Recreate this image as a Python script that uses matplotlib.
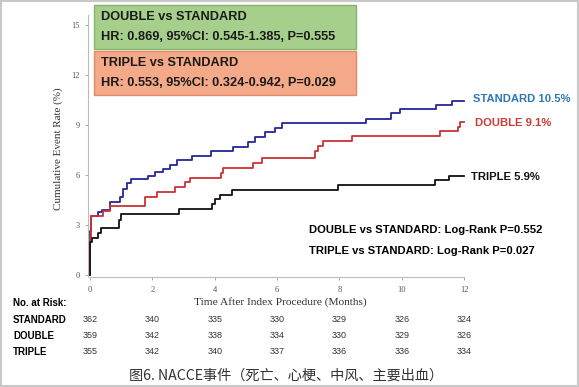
# NACCE cumulative event curves with number-at-risk table

import matplotlib.pyplot as plt
from matplotlib.patches import Rectangle
from matplotlib.transforms import blended_transform_factory

plt.rcParams['font.family'] = ['Liberation Sans', 'Noto Sans CJK SC', 'DejaVu Sans']

# curves (months, cumulative %)
std_t = [0, 0, 0.02, 0.25, 0.4, 0.64, 0.96, 1.07, 1.2, 1.33, 1.87, 2.1, 2.35, 2.56, 2.78,
         3.26, 3.87, 4.59, 5.07, 5.29, 5.61, 5.93, 6.17, 8.85, 9.65, 9.94, 11.11, 11.62, 12.0]
std_v = [0, 2.6, 3.55, 3.75, 3.9, 4.35, 4.65, 5.15, 5.5, 5.75, 5.95, 6.15, 6.35, 6.6, 6.9,
         7.15, 7.42, 7.68, 7.98, 8.28, 8.54, 8.82, 9.08, 9.34, 9.68, 9.92, 10.18, 10.44, 10.44]

dbl_t = [0, 0, 0.02, 0.43, 0.64, 1.78, 2.14, 2.72, 3.04, 3.2, 4.19, 4.27, 5.23, 5.53,
         7.21, 7.32, 7.48, 8.39, 11.22, 11.8, 11.88, 12.0]
dbl_v = [0, 2.2, 3.55, 3.84, 4.1, 4.68, 4.98, 5.28, 5.58, 5.8, 6.08, 6.38, 6.68, 7.0,
         7.4, 7.7, 8.05, 8.32, 8.6, 8.88, 9.14, 9.14]

tri_t = [0, 0, 0.05, 0.27, 0.35, 0.92, 1.0, 2.86, 3.9, 4.0, 4.17, 4.54, 7.96, 11.06, 11.52, 12.0]
tri_v = [0, 1.98, 2.2, 2.48, 2.78, 3.3, 3.65, 3.95, 4.24, 4.52, 4.78, 5.08, 5.38, 5.68, 5.92, 5.92]

risk_months = [0, 2, 4, 6, 8, 10, 12]
risk_std = [362, 340, 335, 330, 329, 326, 324]
risk_dbl = [359, 342, 338, 334, 330, 329, 326]
risk_tri = [355, 342, 340, 337, 336, 336, 334]

fig = plt.figure(figsize=(5.79, 3.87), dpi=100)
ax = fig.add_axes([0.1527, 0.2837, 0.6515, 0.6783])

ax.step(std_t, std_v, where='post', color='#25259a', lw=1.3)
ax.step(dbl_t, dbl_v, where='post', color='#cc3333', lw=1.3)
ax.step(tri_t, tri_v, where='post', color='#111111', lw=1.3)

ax.set_xlim(-0.05, 12.05)
ax.set_ylim(-0.15, 15.6)
ax.set_xticks(risk_months)
ax.set_yticks([0, 3, 6, 9, 12, 15])
for s in ['top', 'right']:
    ax.spines[s].set_visible(False)
for s in ['left', 'bottom']:
    ax.spines[s].set_color('#bbbbbb')
ax.spines['bottom'].set_bounds(0, 12)
ax.tick_params(colors='#999999', labelcolor='#555555', labelsize=6, length=2.5, width=0.6)
for lab in ax.get_xticklabels() + ax.get_yticklabels():
    lab.set_family('Liberation Serif')
ax.set_ylabel('Cumulative Event Rate (%)', family='Liberation Serif', fontsize=8,
              color='#333333')
ax.yaxis.set_label_coords(-0.067, 0.49)

# HR boxes
ax.add_patch(Rectangle((94 / 579, 1 - 48.5 / 387), 262 / 579, 43.5 / 387, transform=fig.transFigure,
                       facecolor='#a6cf8c', edgecolor='#86b36e', lw=1, zorder=5, clip_on=False))
ax.add_patch(Rectangle((94 / 579, 1 - 94.5 / 387), 262 / 579, 43 / 387, transform=fig.transFigure,
                       facecolor='#f4a988', edgecolor='#e3896a', lw=1, zorder=5, clip_on=False))
box_txt = [(17, 'DOUBLE vs STANDARD'), (36.5, 'HR: 0.869, 95%CI: 0.545-1.385, P=0.555'),
           (63, 'TRIPLE vs STANDARD'), (83, 'HR: 0.553, 95%CI: 0.324-0.942, P=0.029')]
for y, t in box_txt:
    fig.text(101 / 579, 1 - y / 387, t, fontsize=9.2, fontweight='bold', color='#1a1a1a',
             va='center', ha='left', zorder=6)

# end labels
fig.text(473 / 579, 1 - 99 / 387, 'STANDARD 10.5%', fontsize=8.1, fontweight='bold', color='#2f78b8', va='center')
fig.text(475 / 579, 1 - 123.5 / 387, 'DOUBLE 9.1%', fontsize=8.1, fontweight='bold', color='#c83a35', va='center')
fig.text(471 / 579, 1 - 177 / 387, 'TRIPLE 5.9%', fontsize=8.1, fontweight='bold', color='#111111', va='center')

fig.text(309 / 579, 1 - 230 / 387, 'DOUBLE vs STANDARD: Log-Rank P=0.552', fontsize=8.1, fontweight='bold', va='center')
fig.text(309 / 579, 1 - 250.5 / 387, 'TRIPLE vs STANDARD: Log-Rank P=0.027', fontsize=8.1, fontweight='bold', va='center')

# x label and risk table
fig.text(280 / 579, 1 - 302 / 387, 'Time After Index Procedure (Months)', family='Liberation Serif',
         fontsize=8.2, color='#333333', ha='center', va='center')
fig.text(13 / 579, 1 - 303 / 387, 'No. at Risk:', fontsize=7, fontweight='bold', va='center')
trans = blended_transform_factory(ax.transData, fig.transFigure)
rows = [('STANDARD', risk_std, 320), ('DOUBLE', risk_dbl, 336), ('TRIPLE', risk_tri, 352)]
for name, vals, y in rows:
    fig.text(13 / 579, 1 - y / 387, name, fontsize=7, fontweight='bold', va='center')
    for m, n in zip(risk_months, vals):
        ax.text(m, 1 - y / 387, str(n), transform=trans, fontsize=6.5, color='#333333',
                ha='center', va='center', clip_on=False)

fig.text(286 / 579, 1 - 376 / 387, '图6. NACCE事件（死亡、心梗、中风、主要出血）',
         family=['Noto Sans CJK SC', 'DejaVu Sans'], fontsize=10.2, color='#333333',
         ha='center', va='center')

# outer frame
fig.patches.append(Rectangle((0.002, 0.003), 0.996, 0.994, transform=fig.transFigure,
                             fill=False, edgecolor='#c8c8c8', lw=1.5))

fig.savefig('out.png', dpi=100)
